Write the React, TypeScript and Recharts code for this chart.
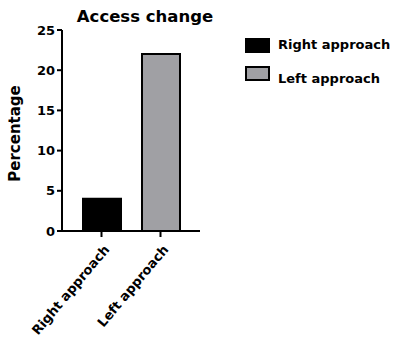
import { Bar, BarChart, Cell, XAxis, YAxis } from "recharts";

const categories = ["Right approach", "Left approach"];
const percentages = [4, 22];
const barColors = ["#000000", "#a0a0a4"];
const yTicks = [0, 5, 10, 15, 20, 25];

const FONT = "'DejaVu Sans', Arial, Helvetica, sans-serif";

const data = categories.map((name, i) => ({ name, value: percentages[i] }));

function RotatedTick(props: any) {
  const { x, y, payload } = props;
  return (
    <g transform={`translate(${x + 4},${y + 7})`}>
      <text
        x={0}
        y={0}
        dy={6}
        textAnchor="end"
        transform="rotate(-50)"
        fontFamily={FONT}
        fontWeight="bold"
        fontSize={13}
        fill="#000"
      >
        {payload.value}
      </text>
    </g>
  );
}

function YTitle(props: any) {
  const { viewBox } = props;
  const cy = viewBox.y + viewBox.height / 2 + 3;
  return (
    <text
      transform={`translate(15,${cy}) rotate(-90)`}
      textAnchor="middle"
      dominantBaseline="central"
      fontFamily={FONT}
      fontWeight="bold"
      fontSize={15}
      fill="#000"
    >
      Percentage
    </text>
  );
}

function LegendBox() {
  return (
    <div
      style={{
        position: "absolute",
        left: 245,
        top: 31,
        fontFamily: FONT,
        fontWeight: "bold",
        fontSize: 13,
        color: "#000",
      }}
    >
      {categories.map((c, i) => (
        <div key={c} style={{ display: "flex", alignItems: "center", height: 28 }}>
          <div
            style={{
              width: 21,
              height: 11,
              background: barColors[i],
              border: "2px solid #000",
              marginRight: 8,
            }}
          />
          <span style={{ position: "relative", top: i === 1 ? 5 : -1 }}>{c}</span>
        </div>
      ))}
    </div>
  );
}

export default function App() {
  return (
    <div style={{ position: "fixed", left: 0, top: 0, width: 398, height: 353, background: "#fff" }}>
      <div
        style={{
          position: "absolute",
          left: 45,
          width: 200,
          top: 7,
          textAlign: "center",
          fontFamily: FONT,
          fontWeight: "bold",
          fontSize: 16.5,
          color: "#000",
        }}
      >
        Access change
      </div>
      <LegendBox />
      <BarChart
        width={398}
        height={353}
        data={data}
        margin={{ top: 30, right: 198, bottom: 0, left: 0 }}
      >
        <XAxis
          dataKey="name"
          height={122}
          padding={{ left: 10, right: 10 }}
          axisLine={{ stroke: "#000", strokeWidth: 2 }}
          tickLine={{ stroke: "#000", strokeWidth: 2 }}
          tickSize={6}
          tick={<RotatedTick />}
          interval={0}
        />
        <YAxis
          width={62}
          domain={[0, 25]}
          ticks={yTicks}
          interval={0}
          axisLine={{ stroke: "#000", strokeWidth: 2 }}
          tickLine={{ stroke: "#000", strokeWidth: 2 }}
          tickSize={5}
          tick={{ fontFamily: FONT, fontWeight: "bold", fontSize: 13, fill: "#000" }}
          label={{ content: <YTitle /> }}
        />
        <Bar dataKey="value" barSize={38} stroke="#000" strokeWidth={2} isAnimationActive={false}>
          {data.map((d, i) => (
            <Cell key={d.name} fill={barColors[i]} />
          ))}
        </Bar>
      </BarChart>
    </div>
  );
}
